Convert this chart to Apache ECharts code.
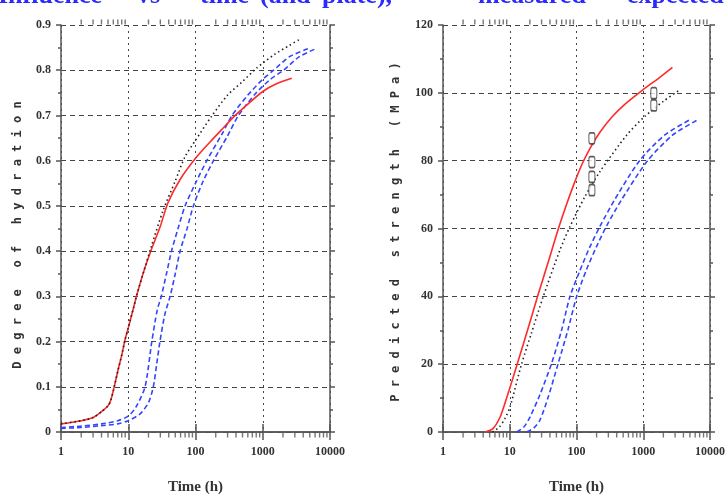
<!DOCTYPE html>
<html><head><meta charset="utf-8">
<script src="https://cdn.jsdelivr.net/npm/echarts@6/dist/echarts.min.js"></script>
<style>html,body{margin:0;padding:0;background:#fff}#c{width:728px;height:500px}</style>
</head><body><div id="c"></div>
<script>
// ---- tick labels / minor log ticks ----
const xTickLabels = ['1','10','100','1000','10000'];
const minorTicks = [2,3,4,5,6,7,8,9,20,30,40,50,60,70,80,90,200,300,400,500,600,700,800,900,2000,3000,4000,5000,6000,7000,8000,9000];
const titleWords = ['Influence','vs','time','(and','plate),','measured','expected'];

// ---- left panel: degree of hydration ----
const redLT = [1,2,3,4,5,5.5,6.3,7,8,9,10,12,13.4,17,22,30,39,60,105,166,250,390,600,1000,1600,2700];
const redLV = [0.018,0.025,0.032,0.045,0.058,0.07,0.105,0.135,0.17,0.205,0.23,0.275,0.303,0.355,0.403,0.455,0.507,0.56,0.609,0.642,0.67,0.70,0.725,0.753,0.77,0.782];
const blkLT = [1,2,3,4,5,5.5,6.3,7,8,9,10,12,13.4,17,22,33,50,70,100,175,300,500,815,1500,2500,3600];
const blkLV = [0.018,0.025,0.032,0.045,0.058,0.07,0.105,0.135,0.17,0.205,0.23,0.275,0.303,0.355,0.41,0.49,0.555,0.609,0.645,0.699,0.745,0.775,0.805,0.835,0.855,0.869];
const bluALT = [1,2,4,7,10,13,17.8,22.4,27,31,37,44,55,70,100,147,250,349,600,1000,1450,2500,4800];
const bluALV = [0.01,0.013,0.018,0.025,0.035,0.055,0.10,0.20,0.27,0.30,0.35,0.40,0.45,0.50,0.55,0.60,0.66,0.70,0.745,0.78,0.80,0.83,0.848];
const bluBLT = [1,2,4,7,10,15,20,23.6,26.5,29.6,35,41.9,50,59,75,93,130,185,300,435,800,1300,2040,3500,6260];
const bluBLV = [0.008,0.01,0.014,0.018,0.025,0.04,0.065,0.10,0.15,0.20,0.26,0.30,0.35,0.40,0.45,0.50,0.555,0.60,0.655,0.70,0.75,0.78,0.80,0.83,0.848];

// ---- right panel: predicted strength (MPa) ----
const redRT = [4.28,5.6,7.2,8.8,10.8,13.3,18.8,26.4,37.3,52.6,69.2,91.2,120,158,223,337,544,977,1750,2740];
const redRV = [0,1,4.5,9.5,15,20.8,30.5,40.3,49.8,59.5,66.5,73,78.8,83.5,88.3,92.8,96.8,100.8,104.5,107.5];
const blkRT = [5.5,7,8.5,10.1,15,21,31.6,56.3,79.5,133,223,563,1045,2000,3480];
const blkRV = [0,1.5,4,7.4,20,29,39.8,53.6,60.5,69.3,76.7,87.5,93,97.5,100.8];
const bluART = [12.7,16.3,20.1,28.3,42.3,59.7,79.4,112,158,223,373,881,2080,4910];
const bluARV = [0,1.5,4.4,11,20.2,30,39.8,47.5,54.5,60.5,68.5,80,87.5,92];
const bluBRT = [17.9,23,28.3,37.3,53.1,74.2,100,142,201,283,474,1160,2740,6460];
const bluBRV = [0,1.2,3.5,10,20.2,30,39.8,48,54.8,60.8,68.5,80,87.5,92];
const measT = [170,170,170,170,1440,1440];
const measV = [86.6,79.6,75.2,71.3,99.9,96.3];

const zip = (a,b) => a.map((v,i)=>[v,b[i]]);
const RED='#ff2a2a', BLK='#222', BLU='#3345ff', AX='#555';
const labelFont = {fontFamily:'Liberation Serif', fontWeight:'bold', fontSize:12, color:'#333'};
const titleX = [-2,137,200,260,322,478,627];

function xAxes(gi){
  return [
    {type:'log', gridIndex:gi, min:1, max:10000, position:'bottom',
     axisLine:{lineStyle:{color:AX,width:1.5}},
     axisTick:{show:true,length:8,inside:false,lineStyle:{color:AX,width:1.5}},
     axisLabel:Object.assign({margin:14,formatter:v=>xTickLabels[Math.round(Math.log10(v))]},labelFont),
     splitLine:{show:true,lineStyle:{color:'#444',type:[2,4],width:1}},
     name:'Time (h)', nameLocation:'middle', nameGap:48,
     nameTextStyle:{fontFamily:'Liberation Serif',fontWeight:'bold',fontSize:15,color:'#333'}},
    {type:'log', gridIndex:gi, min:1, max:10000, position:'top',
     axisLine:{lineStyle:{color:AX,width:1.5}},
     axisTick:{show:true,length:8,inside:false,lineStyle:{color:AX,width:1.5}},
     axisLabel:{show:false}, splitLine:{show:false}}
  ];
}
function yAxes(gi,max,interval,fmt){
  return [
    {type:'value', gridIndex:gi, min:0, max:max, interval:interval, position:'left',
     axisLine:{show:true,lineStyle:{color:AX,width:1.5}},
     axisTick:{show:true,length:5,lineStyle:{color:AX,width:1.5}},
     minorTick:{show:true,splitNumber:2,length:3,lineStyle:{color:AX,width:1.5}},
     axisLabel:Object.assign({margin:10,formatter:fmt},labelFont),
     splitLine:{show:true,lineStyle:{color:'#444',type:[5,4],width:1}}},
    {type:'value', gridIndex:gi, min:0, max:max, interval:interval, position:'right',
     axisLine:{show:true,lineStyle:{color:AX,width:1.5}},
     axisTick:{show:true,length:5,lineStyle:{color:AX,width:1.5}},
     minorTick:{show:true,splitNumber:2,length:3,lineStyle:{color:AX,width:1.5}},
     axisLabel:{show:false}, splitLine:{show:false}}
  ];
}
function tickSeries(xi,yi,yv,off){
  return {type:'scatter', xAxisIndex:xi, yAxisIndex:yi, clip:false, silent:true,
    symbol:'rect', symbolSize:[1.4,5], symbolOffset:[0,off],
    itemStyle:{color:AX}, data:minorTicks.map(t=>[t,yv]), z:5};
}
function line(xi,yi,t,v,color,type){
  return {type:'line', xAxisIndex:xi, yAxisIndex:yi, data:zip(t,v), showSymbol:false,
    smooth:0.25, lineStyle:{color:color,width:1.6,type:type}, z:3};
}

const titleGraphics = titleWords.map((w,i)=>({type:'text', x:titleX[i], y:-17,
  style:{text:w, font:'bold 26px "Liberation Serif"', fill:'#2a2aff', align:'left', verticalAlign:'top'}}));

const chart = echarts.init(document.getElementById('c'),null,{renderer:'canvas'});
chart.setOption({
  animation:false,
  grid:[{left:61,right:398,top:25,bottom:68},{left:443,right:17,top:25,bottom:68}],
  xAxis:[...xAxes(0),...xAxes(1)],
  yAxis:[...yAxes(0,0.9,0.1,v=>v===0?'0':v.toFixed(1)),...yAxes(1,120,20,v=>String(v))],
  graphic:[
    ...titleGraphics,
    {type:'text', x:18, y:235, rotation:Math.PI/2,
      style:{text:'D e g r e e   o f   h y d r a t i o n', font:'bold 12px "DejaVu Sans Mono"', fill:'#333',
        align:'center', verticalAlign:'middle'}},
    {type:'text', x:396, y:232, rotation:Math.PI/2,
      style:{text:'P r e d i c t e d   s t r e n g t h   ( M P a )', font:'bold 12px "DejaVu Sans Mono"', fill:'#333',
        align:'center', verticalAlign:'middle'}}
  ],
  series:[
    tickSeries(0,0,0,3), tickSeries(1,0,0.9,-3),
    tickSeries(2,2,0,3), tickSeries(3,2,120,-3),
    line(0,0,bluBLT,bluBLV,BLU,[5,3]),
    line(0,0,bluALT,bluALV,BLU,[5,3]),
    line(0,0,redLT,redLV,RED,'solid'),
    line(0,0,blkLT,blkLV,BLK,[1.5,3]),
    line(2,2,bluBRT,bluBRV,BLU,[5,3]),
    line(2,2,bluART,bluARV,BLU,[5,3]),
    line(2,2,redRT,redRV,RED,'solid'),
    line(2,2,blkRT,blkRV,BLK,[1.5,3]),
    {type:'scatter', xAxisIndex:2, yAxisIndex:2, data:zip(measT,measV), symbol:'roundRect',
     symbolSize:[6,11], itemStyle:{color:'#fff',borderColor:'#333',borderWidth:1.3}, z:6}
  ]
});
</script></body></html>
